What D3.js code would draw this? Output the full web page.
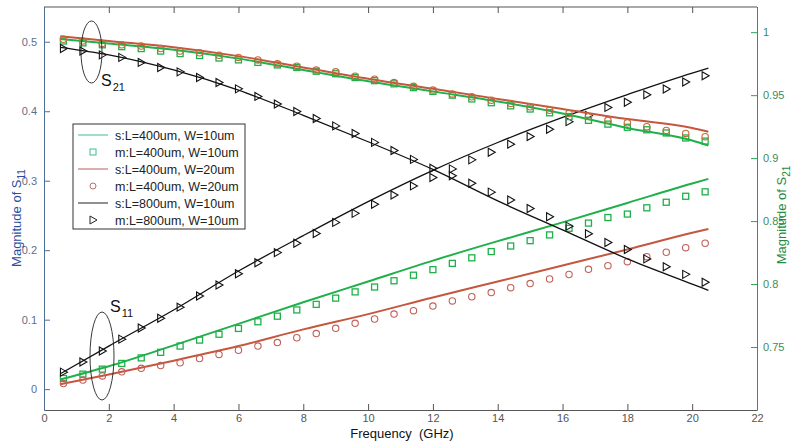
<!DOCTYPE html>
<html>
<head>
<meta charset="utf-8">
<script src="https://cdn.jsdelivr.net/npm/d3@7"></script>
<style>
  body { margin: 0; background: #fff; }
  svg text { font-family: Arial, "Liberation Sans", sans-serif; }
</style>
</head>
<body>
<svg id="chart" width="797" height="443"></svg>
<script>
/* ============================
   Data
============================ */

const freqMeas = [0.6, 1.2, 1.8, 2.4, 3.0, 3.6, 4.2, 4.8, 5.4, 6.0, 6.6, 7.2,
  7.8, 8.4, 9.0, 9.6, 10.2, 10.8, 11.4, 12.0, 12.6, 13.2, 13.8,
  14.4, 15.0, 15.6, 16.2, 16.8, 17.4, 18.0, 18.6, 19.2, 19.8, 20.4];

const freqSim = [0.5, 2, 4, 6, 8, 10, 12, 14, 16, 18, 20, 20.5];

// S11 simulated (left axis)
const s11SimW10 = [0.014, 0.033, 0.063, 0.094, 0.125, 0.155, 0.185, 0.213, 0.240, 0.268, 0.296, 0.3026];
const s11SimW20 = [0.007, 0.021, 0.041, 0.062, 0.086, 0.108, 0.132, 0.155, 0.178, 0.201, 0.225, 0.2305];
const s11SimL800 = [0.022, 0.062, 0.114, 0.170, 0.221, 0.270, 0.315, 0.355, 0.391, 0.424, 0.455, 0.462];

// S11 measured (left axis)
const s11MeasW10 = [0.0154, 0.0216, 0.0288, 0.037, 0.045, 0.053, 0.062, 0.0706, 0.079, 0.0874, 0.097, 0.105,
  0.114, 0.122, 0.131, 0.140, 0.147, 0.156, 0.164, 0.172, 0.181, 0.189, 0.198,
  0.206, 0.2137, 0.222, 0.2315, 0.239, 0.247, 0.252, 0.261, 0.269, 0.2776, 0.284];
const s11MeasW20 = [0.008, 0.013, 0.019, 0.025, 0.030, 0.034, 0.038, 0.044, 0.050, 0.056, 0.062, 0.067,
  0.074, 0.080, 0.0875, 0.0947, 0.101, 0.108, 0.113, 0.1196, 0.127, 0.133, 0.139,
  0.146, 0.152, 0.1585, 0.165, 0.1725, 0.1777, 0.1834, 0.1906, 0.197, 0.2036, 0.210];
const s11MeasL800 = [0.0245, 0.039, 0.055, 0.072, 0.088, 0.102, 0.118, 0.134, 0.150, 0.166, 0.182, 0.1965,
  0.210, 0.224, 0.240, 0.253, 0.266, 0.2795, 0.2925, 0.3045, 0.317, 0.330, 0.341,
  0.3526, 0.3636, 0.374, 0.385, 0.394, 0.4055, 0.413, 0.4236, 0.432, 0.442, 0.451];

// S21 simulated (right axis)
const s21SimW10 = [0.9945, 0.991, 0.986, 0.979, 0.970, 0.961, 0.953, 0.945, 0.9355, 0.924, 0.914, 0.910];
const s21SimW20 = [0.9968, 0.993, 0.988, 0.981, 0.972, 0.963, 0.955, 0.947, 0.939, 0.931, 0.924, 0.921];
const s21SimL800 = [0.988, 0.982, 0.970, 0.954, 0.934, 0.913, 0.891, 0.866, 0.843, 0.820, 0.800, 0.795];

// S21 measured (right axis)
const s21MeasW10 = [0.993, 0.9915, 0.990, 0.9885, 0.987, 0.985, 0.983, 0.9815, 0.9795, 0.978, 0.976, 0.974,
  0.972, 0.969, 0.967, 0.964, 0.9615, 0.959, 0.956, 0.953, 0.950, 0.947, 0.944,
  0.9415, 0.939, 0.936, 0.933, 0.930, 0.927, 0.9245, 0.9225, 0.920, 0.916, 0.9135];
const s21MeasW20 = [0.9944, 0.9931, 0.991, 0.990, 0.989, 0.987, 0.985, 0.9836, 0.9817, 0.980, 0.978, 0.975,
  0.973, 0.970, 0.9685, 0.965, 0.9627, 0.960, 0.957, 0.954, 0.951, 0.9487, 0.946,
  0.9434, 0.9407, 0.938, 0.9355, 0.933, 0.930, 0.928, 0.925, 0.922, 0.9196, 0.917];
const s21MeasL800 = [0.987, 0.985, 0.982, 0.980, 0.976, 0.972, 0.9685, 0.964, 0.960, 0.955, 0.949, 0.943,
  0.937, 0.9315, 0.9256, 0.9196, 0.9125, 0.906, 0.899, 0.892, 0.886, 0.880, 0.873,
  0.8667, 0.860, 0.8534, 0.846, 0.840, 0.833, 0.8275, 0.820, 0.8137, 0.8077, 0.8014];

const xTicks = [0, 2, 4, 6, 8, 10, 12, 14, 16, 18, 20, 22];
const leftTicks = [0, 0.1, 0.2, 0.3, 0.4, 0.5];
const rightTicks = [0.75, 0.8, 0.85, 0.9, 0.95, 1];

const legendLabels = [
  "s:L=400um, W=10um",
  "m:L=400um, W=10um",
  "s:L=400um, W=20um",
  "m:L=400um, W=20um",
  "s:L=800um, W=10um",
  "m:L=800um, W=10um"
];

/* ============================
   Scales
============================ */

const GREEN = "#1fb04a";
const RED = "#c4573e";
const BLACK = "#111";

const x = d3.scaleLinear().domain([0, 22]).range([44, 757]);
const yL = d3.scaleLinear().domain([-0.03, 0.55]).range([410, 7]);
const yR = d3.scaleLinear().domain([0.70, 1.02]).range([410, 7]);

const svg = d3.select("#chart");

/* ============================
   Axes / frame
============================ */

svg.append("line")
  .attr("x1", x(0)).attr("x2", x(22))
  .attr("y1", 7).attr("y2", 7)
  .attr("stroke", "#555").attr("stroke-width", 1);

const axBottom = svg.append("g").attr("transform", "translate(0,410)")
  .call(d3.axisBottom(x).tickValues(xTicks).tickSizeInner(-6).tickSizeOuter(0).tickPadding(4));
axBottom.select(".domain").attr("stroke", "#555");
axBottom.selectAll(".tick line").attr("stroke", "#555");
axBottom.selectAll(".tick text").attr("fill", "#555").attr("font-size", 11);

const axTop = svg.append("g").attr("transform", "translate(0,7)")
  .call(d3.axisTop(x).tickValues(xTicks).tickSizeInner(-6).tickSizeOuter(0).tickFormat(""));
axTop.select(".domain").remove();
axTop.selectAll(".tick line").attr("stroke", "#555");

const axLeft = svg.append("g").attr("transform", "translate(44,0)")
  .call(d3.axisLeft(yL).tickValues(leftTicks).tickSizeInner(-6).tickSizeOuter(0)
    .tickPadding(7).tickFormat(d => d === 0 ? "0" : d3.format(".1f")(d)));
axLeft.select(".domain").attr("stroke", "#4d6f96");
axLeft.selectAll(".tick line").attr("stroke", "#4d6f96");
axLeft.selectAll(".tick text").attr("fill", "#5b708a").attr("font-size", 11);

const axRight = svg.append("g").attr("transform", "translate(757,0)")
  .call(d3.axisRight(yR).tickValues(rightTicks).tickSizeInner(-6).tickSizeOuter(0)
    .tickPadding(6).tickFormat(d => String(d)));
axRight.select(".domain").attr("stroke", "#2c8f7c");
axRight.selectAll(".tick line").attr("stroke", "#2c9f5c");
axRight.selectAll(".tick text").attr("fill", "#3f8a5a").attr("font-size", 11);

// axis titles
svg.append("text")
  .attr("x", 402).attr("y", 438)
  .attr("text-anchor", "middle")
  .attr("font-size", 13).attr("fill", "#111")
  .text("Frequency\u00a0\u00a0(GHz)");

const lt = svg.append("text")
  .attr("transform", "translate(21,218) rotate(-90)")
  .attr("text-anchor", "middle")
  .attr("font-size", 13).attr("fill", "#2a4f9e");
lt.append("tspan").text("Magnitude of S");
lt.append("tspan").attr("dy", 4).attr("font-size", 10).text("11");

const rt = svg.append("text")
  .attr("transform", "translate(786,215) rotate(-90)")
  .attr("text-anchor", "middle")
  .attr("font-size", 13).attr("fill", "#1f8a40");
rt.append("tspan").text("Magnitude of S");
rt.append("tspan").attr("dy", 4).attr("font-size", 10).text("21");

/* ============================
   Series
============================ */

function drawLine(xs, ys, scale, color, width) {
  const pts = xs.map((f, i) => [f, ys[i]]);
  svg.append("path")
    .datum(pts)
    .attr("fill", "none")
    .attr("stroke", color)
    .attr("stroke-width", width)
    .attr("d", d3.line().x(d => x(d[0])).y(d => scale(d[1])).curve(d3.curveMonotoneX));
}

const triPath = "M-3,-4L4,0L-3,4Z";

function drawMarkers(ys, scale, kind, color) {
  const pts = freqMeas.map((f, i) => [f, ys[i]]);
  const g = svg.append("g");
  if (kind === "square") {
    g.selectAll("rect").data(pts).enter().append("rect")
      .attr("x", d => x(d[0]) - 3).attr("y", d => scale(d[1]) - 3)
      .attr("width", 6).attr("height", 6)
      .attr("fill", "none").attr("stroke", color).attr("stroke-width", 1.3);
  } else if (kind === "circle") {
    g.selectAll("circle").data(pts).enter().append("circle")
      .attr("cx", d => x(d[0])).attr("cy", d => scale(d[1])).attr("r", 3.2)
      .attr("fill", "none").attr("stroke", color).attr("stroke-width", 1.1);
  } else {
    g.selectAll("path").data(pts).enter().append("path")
      .attr("transform", d => `translate(${x(d[0])},${scale(d[1])})`)
      .attr("d", triPath)
      .attr("fill", "none").attr("stroke", color).attr("stroke-width", 1.1);
  }
}

// S11
drawLine(freqSim, s11SimW10, yL, GREEN, 2);
drawMarkers(s11MeasW10, yL, "square", GREEN);
drawLine(freqSim, s11SimW20, yL, RED, 2);
drawMarkers(s11MeasW20, yL, "circle", "#c0605a");
drawLine(freqSim, s11SimL800, yL, BLACK, 1.3);
drawMarkers(s11MeasL800, yL, "tri", BLACK);

// S21
drawLine(freqSim, s21SimW10, yR, GREEN, 2);
drawMarkers(s21MeasW10, yR, "square", GREEN);
drawLine(freqSim, s21SimW20, yR, RED, 2);
drawMarkers(s21MeasW20, yR, "circle", "#c86a3a");
drawLine(freqSim, s21SimL800, yR, BLACK, 1.3);
drawMarkers(s21MeasL800, yR, "tri", BLACK);

/* ============================
   Annotations
============================ */

svg.append("ellipse")
  .attr("cx", 91.5).attr("cy", 52).attr("rx", 10.5).attr("ry", 31)
  .attr("fill", "none").attr("stroke", "#222").attr("stroke-width", 0.9);
svg.append("ellipse")
  .attr("cx", 102).attr("cy", 356).attr("rx", 12).attr("ry", 44)
  .attr("fill", "none").attr("stroke", "#222").attr("stroke-width", 0.9);

function sLabel(px, py, sub) {
  const t = svg.append("text")
    .attr("x", px).attr("y", py)
    .attr("font-family", "'Liberation Serif', 'DejaVu Serif', serif")
    .attr("font-size", 16).attr("fill", "#111");
  t.append("tspan").text("S");
  t.append("tspan").attr("dy", 5).attr("dx", 1).attr("font-size", 11).text(sub);
}
sLabel(101, 86, "21");
sLabel(110, 312, "11");

/* ============================
   Legend
============================ */

const lg = svg.append("g");
lg.append("rect")
  .attr("x", 73).attr("y", 124).attr("width", 172).attr("height", 105)
  .attr("fill", "#fff").attr("stroke", "#333").attr("stroke-width", 1);

const legendStyle = [
  { type: "line", color: "#3cbf98" },
  { type: "square", color: "#3cbf98" },
  { type: "line", color: "#b8605a" },
  { type: "circle", color: "#b8706a" },
  { type: "line", color: "#222" },
  { type: "tri", color: "#222" }
];

legendLabels.forEach((label, i) => {
  const cy = 135 + i * 17;
  const s = legendStyle[i];
  if (s.type === "line") {
    lg.append("line").attr("x1", 78).attr("x2", 108).attr("y1", cy).attr("y2", cy)
      .attr("stroke", s.color).attr("stroke-width", 1);
  } else if (s.type === "square") {
    lg.append("rect").attr("x", 90).attr("y", cy - 3).attr("width", 6).attr("height", 6)
      .attr("fill", "none").attr("stroke", s.color).attr("stroke-width", 1);
  } else if (s.type === "circle") {
    lg.append("circle").attr("cx", 93).attr("cy", cy).attr("r", 3)
      .attr("fill", "none").attr("stroke", s.color).attr("stroke-width", 1);
  } else {
    lg.append("path").attr("transform", `translate(93,${cy})`).attr("d", triPath)
      .attr("fill", "none").attr("stroke", s.color).attr("stroke-width", 1);
  }
  lg.append("text")
    .attr("x", 115).attr("y", cy + 4.5)
    .attr("font-size", 12.5).attr("fill", "#222")
    .text(label);
});
</script>
</body>
</html>
